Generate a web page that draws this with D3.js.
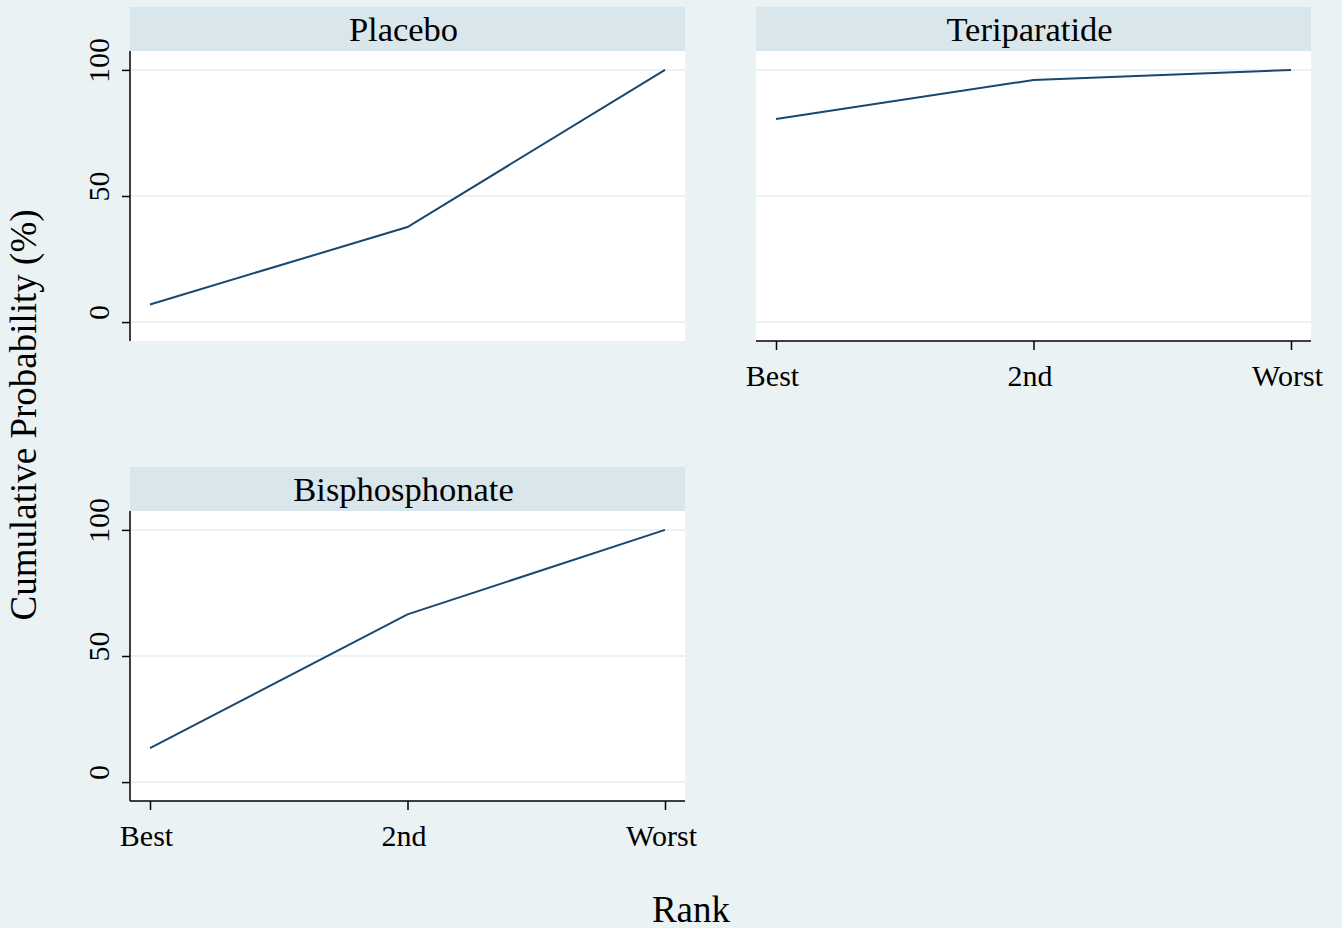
<!DOCTYPE html>
<html>
<head>
<meta charset="utf-8">
<script src="https://cdn.jsdelivr.net/npm/d3@7"></script>
<style>
  html, body { margin: 0; padding: 0; background: #eaf2f3; }
  svg { display: block; }
  text { font-family: "Liberation Serif", "Times New Roman", serif; fill: #000; }
</style>
</head>
<body>
<svg id="chart" width="1342" height="928"></svg>
<script>
// Rank categories and tick values
const ranks = ["Best", "2nd", "Worst"];
const yTicks = [0, 50, 100];

// Treatments and their cumulative ranking probabilities (%)
const treatments = ["Placebo", "Teriparatide", "Bisphosphonate"];
const placebo = [7, 37.7, 100];
const teriparatide = [80.5, 96, 100];
const bisphosphonate = [13.5, 66.5, 100];

const seriesByTreatment = {
  "Placebo": placebo,
  "Teriparatide": teriparatide,
  "Bisphosphonate": bisphosphonate
};

// Panel layout: 2 columns x 2 rows, last cell empty
const panelW = 555, headerH = 44, plotH = 290;
const colX = [130, 756];
const rowY = [7, 467];
const panels = [
  { name: treatments[0], col: 0, row: 0, showY: true, showX: false },
  { name: treatments[1], col: 1, row: 0, showY: false, showX: true },
  { name: treatments[2], col: 0, row: 1, showY: true, showX: true }
];

const svg = d3.select("#chart");
svg.append("rect").attr("width", 1342).attr("height", 928).attr("fill", "#eaf2f3");

const x = d3.scalePoint().domain(ranks).range([20, panelW - 20]);
const y = d3.scaleLinear().domain([-7.5, 107.5]).range([plotH, 0]);

const line = d3.line()
  .x((d, i) => x(ranks[i]))
  .y(d => y(d));

panels.forEach(p => {
  const g = svg.append("g")
    .attr("transform", `translate(${colX[p.col]},${rowY[p.row]})`);

  // strip header
  g.append("rect")
    .attr("width", panelW).attr("height", headerH)
    .attr("fill", "#d9e6eb");
  g.append("text")
    .attr("x", panelW / 2 - 4).attr("y", 34)
    .attr("text-anchor", "middle")
    .style("font-size", "34.5px")
    .text(p.name);

  const plot = g.append("g").attr("transform", `translate(0,${headerH})`);
  plot.append("rect")
    .attr("width", panelW).attr("height", plotH)
    .attr("fill", "#ffffff");

  // horizontal gridlines
  plot.selectAll(".grid").data(yTicks).enter().append("line")
    .attr("x1", 0).attr("x2", panelW)
    .attr("y1", d => y(d)).attr("y2", d => y(d))
    .attr("stroke", "#eaf2f3").attr("stroke-width", 2);

  // cumulative probability line
  plot.append("path")
    .datum(seriesByTreatment[p.name])
    .attr("fill", "none")
    .attr("stroke", "#1a476f")
    .attr("stroke-width", 2)
    .attr("d", line);

  if (p.showY) {
    const ay = plot.append("g")
      .call(d3.axisLeft(y).tickValues(yTicks).tickSize(8).tickPadding(0).tickFormat(d3.format("d")));
    ay.select(".domain").attr("d", `M0,0V${plotH}`).attr("stroke", "#000").attr("stroke-width", 1.5);
    ay.selectAll(".tick line").attr("stroke", "#000").attr("stroke-width", 1.5);
    ay.selectAll(".tick text")
      .attr("x", 10).attr("y", 0)
      .attr("transform", "translate(-21,0) rotate(-90)")
      .attr("text-anchor", "middle")
      .attr("dy", 0)
      .style("font-size", "30px")
      .style("font-family", "'Liberation Serif', serif");
  }

  if (p.showX) {
    const ax = plot.append("g")
      .attr("transform", `translate(0,${plotH})`)
      .call(d3.axisBottom(x).tickSize(9).tickPadding(0));
    ax.select(".domain").attr("d", `M0,0H${panelW}`).attr("stroke", "#000").attr("stroke-width", 1.5);
    ax.selectAll(".tick line").attr("stroke", "#000").attr("stroke-width", 1.5);
    ax.selectAll(".tick text")
      .attr("x", -4)
      .attr("y", 45).attr("dy", 0)
      .style("font-size", "30px")
      .style("font-family", "'Liberation Serif', serif");
  }
});

// overall axis titles
svg.append("text")
  .attr("transform", "translate(36,415) rotate(-90)")
  .attr("text-anchor", "middle")
  .style("font-size", "37px")
  .text("Cumulative Probability (%)");

svg.append("text")
  .attr("x", 691).attr("y", 922)
  .attr("text-anchor", "middle")
  .style("font-size", "37px")
  .text("Rank");
</script>
</body>
</html>
